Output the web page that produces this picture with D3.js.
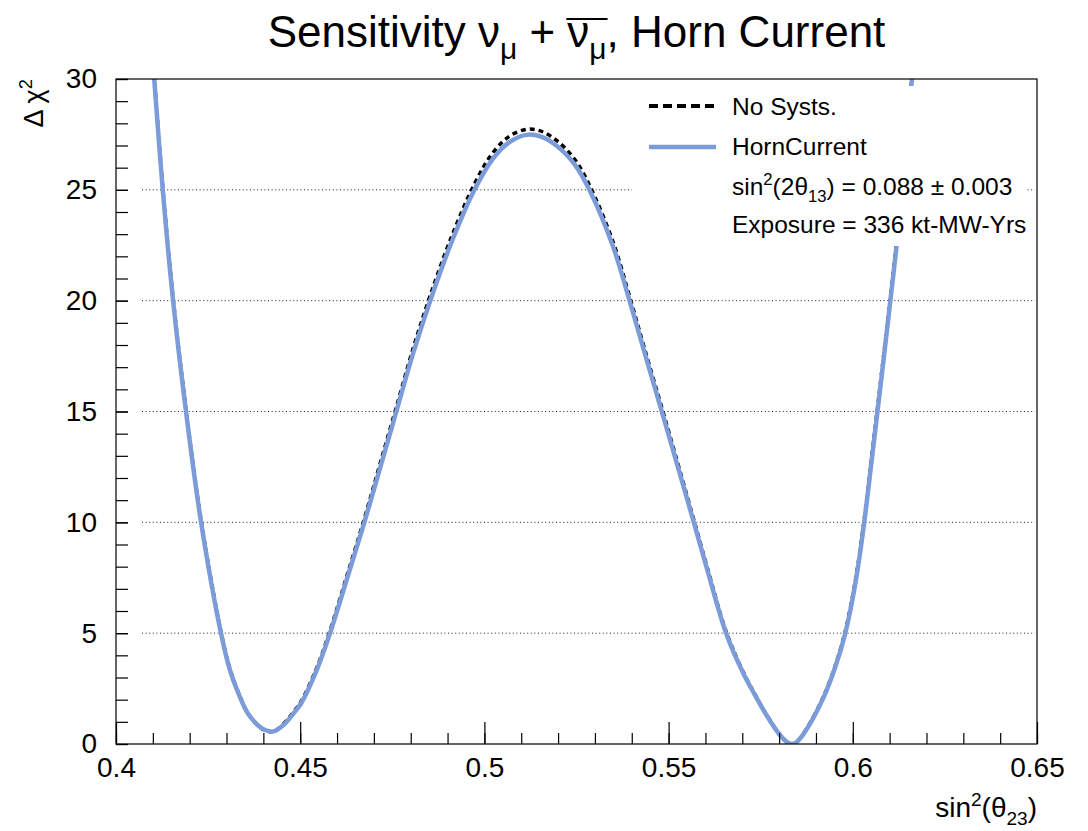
<!DOCTYPE html>
<html lang="en">
<head>
    <meta charset="UTF-8">
    <title>Sensitivity Horn Current</title>
    <script src="https://d3js.org/d3.v7.min.js"></script>
    <style>
        body { margin: 0; background: #fff; }
        text { font-family: "Liberation Sans", Arial, Helvetica, sans-serif; fill: #000; }
    </style>
</head>
<body>
    <svg id="chart" width="1088" height="831"></svg>

    <script>
        // values
        var xTicks = [0.4, 0.45, 0.5, 0.55, 0.6, 0.65]
        var yTicks = [0, 5, 10, 15, 20, 25, 30]
        var gridLevels = [5, 10, 15, 20, 25]

        var sinTheta = [
            0.4102, 0.4104, 0.4127, 0.4155, 0.4190, 0.4231, 0.4285, 0.4309, 0.4332, 0.4359,
            0.4395, 0.4415, 0.4430, 0.4454, 0.4490, 0.4503, 0.4544, 0.4580, 0.4626, 0.4675,
            0.4716, 0.4761, 0.4806, 0.4853, 0.4910, 0.4973, 0.5023, 0.5068, 0.5114, 0.5150,
            0.5195, 0.5245, 0.5285, 0.5349, 0.5394, 0.5434, 0.5486, 0.5520, 0.5565, 0.5606,
            0.5656, 0.5701, 0.5733, 0.5764, 0.5800, 0.5822, 0.5834, 0.5847, 0.5873, 0.5922,
            0.5954, 0.5979, 0.6008, 0.6031, 0.6052, 0.6067, 0.6085, 0.6103, 0.6119, 0.6140,
            0.6160, 0.6165
        ]
        var hornCurrent = [
            30.5, 29.95, 25.0, 20.0, 15.0, 10.0, 5.0, 3.35, 2.3, 1.35,
            0.72, 0.58, 0.58, 0.85, 1.55, 1.85, 3.3, 4.95, 7.4, 10.05,
            12.4, 15.0, 17.6, 20.0, 22.6, 25.0, 26.4, 27.15, 27.48, 27.42,
            27.0, 26.15, 25.0, 22.45, 20.0, 17.7, 14.75, 12.8, 10.2, 7.8,
            5.0, 3.25, 2.25, 1.35, 0.45, 0.08, 0.0, 0.08, 0.62, 2.15,
            3.55, 4.95, 7.35, 10.0, 12.9, 15.0, 17.55, 20.15, 22.5, 26.0,
            29.9, 30.6
        ]
        var noSysts = [
            30.6, 30.05, 25.1, 20.1, 15.1, 10.08, 5.05, 3.4, 2.33, 1.36,
            0.70, 0.56, 0.58, 0.9, 1.62, 1.93, 3.4, 5.07, 7.55, 10.22,
            12.6, 15.2, 17.82, 20.24, 22.85, 25.27, 26.68, 27.42, 27.73, 27.67,
            27.24, 26.38, 25.22, 22.66, 20.2, 17.88, 14.92, 12.95, 10.32, 7.9,
            5.08, 3.3, 2.28, 1.37, 0.46, 0.08, 0.0, 0.08, 0.64, 2.2,
            3.62, 5.05, 7.47, 10.13, 13.05, 15.15, 17.7, 20.3, 22.65, 26.15,
            30.05, 30.75
        ]

        var svg = d3.select("#chart")
        var frame = {left: 116, top: 79, right: 1037, bottom: 744}
        var blue = "#7b9bd9"

        var x = d3.scaleLinear().domain([0.4, 0.65]).range([frame.left, frame.right])
        var y = d3.scaleLinear().domain([0, 30]).range([frame.bottom, frame.top])

        // little helper for ROOT-ish latex: segments with sup / sub
        function richText(sel, segs, fs) {
            var shift = 0
            segs.forEach(function(s) {
                var t = sel.append("tspan").text(s.t)
                var target = 0
                if (s.sup) target = -fs * 0.4
                if (s.sub) target = fs * 0.28
                t.attr("dy", target - shift)
                if (s.sup || s.sub) t.attr("font-size", fs * 0.68)
                if (s.over) t.attr("class", "over")
                shift = target
            })
            return sel
        }

        // grid
        svg.append("g").selectAll("line").data(gridLevels).join("line")
            .attr("x1", frame.left + 26).attr("x2", frame.right - 2)
            .attr("y1", function(d){ return y(d) }).attr("y2", function(d){ return y(d) })
            .attr("stroke", "#222").attr("stroke-width", 1).attr("stroke-dasharray", "1,2.6")

        // curves
        svg.append("clipPath").attr("id", "clip").append("rect")
            .attr("x", frame.left).attr("y", frame.top)
            .attr("width", frame.right - frame.left).attr("height", frame.bottom - frame.top)

        var line = d3.line()
            .x(function(d){ return x(d[0]) })
            .y(function(d){ return y(d[1]) })
            .curve(d3.curveCatmullRom.alpha(0.5))

        var curves = svg.append("g").attr("clip-path", "url(#clip)")
        curves.append("path")
            .attr("d", line(d3.zip(sinTheta, noSysts)))
            .attr("fill", "none").attr("stroke", "#000").attr("stroke-width", 3.5)
            .attr("stroke-dasharray", "5,4")
        curves.append("path")
            .attr("d", line(d3.zip(sinTheta, hornCurrent)))
            .attr("fill", "none").attr("stroke", blue).attr("stroke-width", 4.5)

        // legend (white box hides what's behind)
        var leg = svg.append("g")
        leg.append("rect").attr("x", 632).attr("y", 86).attr("width", 395).attr("height", 160)
            .attr("fill", "#fff")
        leg.append("line").attr("x1", 649).attr("x2", 716).attr("y1", 106).attr("y2", 106)
            .attr("stroke", "#000").attr("stroke-width", 4).attr("stroke-dasharray", "9,5")
        leg.append("line").attr("x1", 649).attr("x2", 716).attr("y1", 147).attr("y2", 147)
            .attr("stroke", blue).attr("stroke-width", 4.5)
        leg.append("text").attr("x", 732).attr("y", 115).attr("font-size", 24.5).text("No Systs.")
        leg.append("text").attr("x", 732).attr("y", 155).attr("font-size", 24.5).text("HornCurrent")
        richText(leg.append("text").attr("x", 732).attr("y", 195).attr("font-size", 24.5),
            [{t: "sin"}, {t: "2", sup: true}, {t: "(2\u03b8"}, {t: "13", sub: true}, {t: ") = 0.088 \u00b1 0.003"}], 24.5)
        leg.append("text").attr("x", 732).attr("y", 233).attr("font-size", 24.5).text("Exposure = 336 kt-MW-Yrs")

        // axes, ticks inside the frame
        svg.append("g").attr("transform", "translate(0," + frame.bottom + ")")
            .call(d3.axisBottom(x).ticks(25).tickSize(-11).tickSizeOuter(0).tickFormat(""))
        var xa = svg.append("g").attr("transform", "translate(0," + frame.bottom + ")")
            .call(d3.axisBottom(x).tickValues(xTicks).tickSize(-22).tickSizeOuter(0).tickPadding(13)
                .tickFormat(function(d){ return String(+d.toFixed(2)) }))
        xa.selectAll("text").attr("font-size", 28).attr("font-family", null)

        svg.append("g").attr("transform", "translate(" + frame.left + ",0)")
            .call(d3.axisLeft(y).ticks(30).tickSize(-12).tickSizeOuter(0).tickFormat(""))
        var ya = svg.append("g").attr("transform", "translate(" + frame.left + ",0)")
            .call(d3.axisLeft(y).tickValues(yTicks).tickSize(-12).tickSizeOuter(0).tickPadding(19))
        ya.selectAll("text").attr("font-size", 28).attr("font-family", null)

        svg.selectAll(".domain").remove()
        svg.selectAll(".tick line").attr("stroke", "#000").attr("stroke-width", 1.2)

        // frame
        svg.append("rect").attr("x", frame.left).attr("y", frame.top)
            .attr("width", frame.right - frame.left).attr("height", frame.bottom - frame.top)
            .attr("fill", "none").attr("stroke", "#000").attr("stroke-width", 1.2)

        // axis titles
        richText(svg.append("text").attr("x", frame.right).attr("y", 817)
            .attr("text-anchor", "end").attr("font-size", 28),
            [{t: "sin"}, {t: "2", sup: true}, {t: "(\u03b8"}, {t: "23", sub: true}, {t: ")"}], 28)

        richText(svg.append("text").attr("transform", "translate(43," + frame.top + ") rotate(-90)")
            .attr("text-anchor", "end").attr("font-size", 27),
            [{t: "\u0394 \u03c7"}, {t: "2", sup: true}], 27)

        // title, overline drawn after measuring
        var title = svg.append("text").attr("x", (frame.left + frame.right) / 2).attr("y", 47)
            .attr("text-anchor", "middle").attr("font-size", 44)
        richText(title, [
            {t: "Sensitivity \u03bd"}, {t: "\u03bc", sub: true}, {t: " + "},
            {t: "\u03bd", over: true}, {t: "\u03bc", sub: true, over: true}, {t: ", Horn Current"}
        ], 44)
        var ov = title.selectAll(".over").nodes()
        var x0 = ov[0].getStartPositionOfChar(0).x
        var x1 = ov[ov.length - 1].getEndPositionOfChar(0).x
        svg.append("line").attr("x1", x0 - 1).attr("x2", x1 + 1).attr("y1", 19).attr("y2", 19)
            .attr("stroke", "#000").attr("stroke-width", 2)
    </script>
</body>
</html>
